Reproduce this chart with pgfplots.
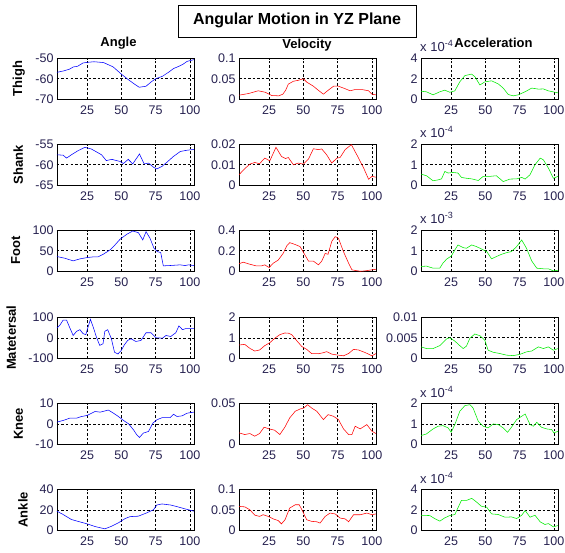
\documentclass[border=0pt]{standalone}
\usepackage{fontspec}
\setmainfont{Liberation Sans}
\usepackage{pgfplots}
\pgfplotsset{compat=1.18}
\definecolor{tickcol}{RGB}{38,33,80}
\definecolor{mblue}{RGB}{0,0,255}
\definecolor{mred}{RGB}{255,0,0}
\definecolor{mgreen}{RGB}{0,235,0}
\pgfplotsset{
  panel/.style={
    width=137pt, height=41.5pt, scale only axis,
    anchor=north west,
    xmin=3, xmax=103,
    xtick={25,50,75,100}, xticklabels={25,50,75,100},
    scaled y ticks=false, scaled x ticks=false,
    grid=major,
    major grid style={black, line width=0.5pt, dash pattern=on 2.5pt off 2pt},
    axis line style={black, line width=0.6pt},
    tick align=inside,
    major tick length=2pt,
    tick style={black, line width=0.5pt},
    ticklabel style={font=\fontsize{12.5}{14}\selectfont, text=tickcol},
    xticklabel style={yshift=-2.5pt},
    every axis plot/.append style={line width=0.55pt, mark=none},
  },
}
\newcommand{\rowlabel}[3]{\node[rotate=90, anchor=base, font=\bfseries\fontsize{13}{15}\selectfont] at (#1pt,-#2pt) {#3};}
\newcommand{\expo}[2]{\node[anchor=base west, font=\fontsize{13}{15}\selectfont, text=tickcol, inner sep=0pt] at (420pt,-#1pt) {x 10\raisebox{5pt}{\fontsize{9}{10}\selectfont #2}};}
\begin{document}
\begin{tikzpicture}
\path[use as bounding box] (0,0) rectangle (565pt,-553pt);
% title
\draw[black, line width=0.8pt, fill=white] (178pt,-5pt) rectangle (416pt,-37pt);
\node[anchor=base, font=\bfseries\fontsize{16}{18}\selectfont] at (297pt,-24.5pt) {Angular Motion in YZ Plane};
\node[anchor=base, font=\bfseries\fontsize{13}{15}\selectfont] at (118.5pt,-46.7pt) {Angle};
\node[anchor=base, font=\bfseries\fontsize{13}{15}\selectfont] at (307pt,-49pt) {Velocity};
\node[anchor=base, font=\bfseries\fontsize{13}{15}\selectfont] at (493.5pt,-48pt) {Acceleration};

% ---------------- Row 1: Thigh
\begin{axis}[panel, at={(57pt,-58pt)}, ymin=-70, ymax=-50, ytick={-70,-60,-50}, yticklabels={-70,-60,-50}]
\addplot[mblue] coordinates {(3,-56.9)(8,-56.2)(12,-55.4)(15,-54.3)(18,-54)(22,-52.4)(25,-52.1)(30,-51.8)(37,-52.2)(44,-54.3)(50,-57.8)(55,-60.4)(60,-62.8)(63,-64.1)(68,-63.6)(72,-61.4)(75,-60)(80,-58.8)(85,-56.6)(88,-55.1)(92,-54)(95,-53)(98,-51.6)(101,-51.1)(103,-50.8)};
\end{axis}
\begin{axis}[panel, at={(239pt,-58pt)}, ymin=0, ymax=0.1, ytick={0,0.05,0.1}, yticklabels={0,0.05,0.1}]
\addplot[mred] coordinates {(3,0.0104)(10,0.0144)(17,0.021)(22,0.0176)(27,0.0096)(32,0.0088)(35,0.0128)(37,0.022)(39,0.037)(42.7,0.044)(46,0.046)(50,0.05)(52.4,0.042)(57.3,0.032)(61,0.022)(64.6,0.0128)(68,0.022)(72,0.032)(75.6,0.032)(80.5,0.026)(84,0.021)(87.8,0.024)(92.7,0.024)(97.6,0.021)(100,0.013)(103,0.011)};
\end{axis}
\begin{axis}[panel, at={(421pt,-58pt)}, ymin=0, ymax=4, ytick={0,2,4}, yticklabels={0,2,4}]
\addplot[mgreen] coordinates {(3,0.8)(7,0.74)(11.8,0.45)(16.7,0.74)(20.4,0.9)(24,0.7)(27.7,0.83)(31.3,1.7)(35,2.3)(39.9,2.45)(42.3,2.2)(46,1.4)(49.6,1.7)(54.5,1.8)(59.4,1.5)(63,1.1)(66.7,0.48)(70.4,0.35)(74,0.45)(78.9,0.74)(83.8,1.1)(88.7,1.0)(92.3,1.02)(96,0.83)(103,0.64)};
\end{axis}
\rowlabel{22}{78.75}{Thigh}
\expo{52}{-4}

% ---------------- Row 2: Shank
\begin{axis}[panel, at={(57pt,-144pt)}, ymin=-65, ymax=-55, ytick={-65,-60,-55}, yticklabels={-65,-60,-55}]
\addplot[mblue] coordinates {(3,-57.6)(7.5,-57.7)(10,-58.4)(13.5,-57.6)(18.4,-56.6)(23.3,-55.8)(25.7,-56)(28,-56.2)(31.8,-56.9)(35.5,-57.6)(39,-59)(43,-58.7)(46.6,-59)(49,-59.2)(51.5,-59.7)(55,-58.7)(58.3,-59.8)(63.2,-57.4)(66.6,-59.8)(69.8,-59.6)(73.5,-60.6)(75.9,-61)(79.6,-60.4)(83.2,-59.4)(88,-58)(93,-56.8)(98,-56.5)(103,-56.3)};
\end{axis}
\begin{axis}[panel, at={(239pt,-144pt)}, ymin=0, ymax=0.02, ytick={0,0.01,0.02}, yticklabels={0,0.01,0.02}]
\addplot[mred] coordinates {(3,0.0052)(7.2,0.0081)(10.9,0.0103)(14.5,0.0111)(18,0.0105)(21.8,0.0132)(25.5,0.0119)(30,0.0184)(34,0.014)(37,0.013)(39,0.0135)(42.7,0.01)(46.3,0.0108)(50,0.0103)(53.7,0.0127)(57.3,0.0177)(61,0.0173)(63.4,0.0176)(67,0.0148)(70.7,0.0108)(74.4,0.0132)(76.8,0.0135)(80.5,0.0173)(85,0.0197)(89,0.0148)(94,0.0084)(97.6,0.003)(100,0.0044)(103,0.004)};
\end{axis}
\begin{axis}[panel, at={(421pt,-144pt)}, ymin=0, ymax=2, ytick={0,1,2}, yticklabels={0,1,2}]
\addplot[mgreen] coordinates {(3,0.55)(7,0.47)(11.8,0.23)(15.5,0.27)(18,0.32)(20.4,0.68)(22.8,0.6)(26.5,0.63)(30,0.6)(32.5,0.39)(36,0.35)(40,0.32)(44.8,0.24)(48.4,0.44)(53.3,0.44)(58,0.47)(63,0.19)(68,0.31)(72.8,0.32)(76.5,0.39)(79,0.31)(82.6,0.52)(86.2,1.0)(90,1.32)(92.3,1.24)(96,0.84)(99.6,0.35)(103,0.44)};
\end{axis}
\rowlabel{23}{164.75}{Shank}
\expo{138}{-4}

% ---------------- Row 3: Foot
\begin{axis}[panel, at={(57pt,-230pt)}, ymin=0, ymax=100, ytick={0,50,100}, yticklabels={0,50,100}]
\addplot[mblue] coordinates {(3,36)(8.7,32)(14.8,25.6)(19.7,30.4)(25,33.6)(29.4,35.2)(33,35.2)(36.8,41.6)(41.7,52)(45.3,64)(49,77.6)(53.9,89.6)(58.3,97.6)(62.4,93.6)(65.6,76)(68,96)(70.9,80)(73.8,56)(76.2,48)(78.7,45.6)(80.6,13.6)(85.5,14.4)(92.8,16)(96.5,14.4)(98.9,16)(103,14.4)};
\end{axis}
\begin{axis}[panel, at={(239pt,-230pt)}, ymin=0, ymax=0.4, ytick={0,0.2,0.4}, yticklabels={0,0.2,0.4}]
\addplot[mred] coordinates {(3,0.074)(6,0.09)(10.9,0.07)(15.7,0.054)(19.4,0.054)(21.8,0.064)(25,0.038)(28,0.08)(31.6,0.11)(35.2,0.174)(38,0.25)(40,0.278)(44,0.26)(47.6,0.24)(50.5,0.174)(53.7,0.1)(57.3,0.1)(61,0.064)(63.4,0.1)(65.9,0.174)(68,0.166)(70.7,0.29)(73.2,0.336)(75.6,0.32)(79.3,0.19)(83,0.08)(85.4,0.016)(91.5,0.002)(95,0.006)(100,0.016)(103,0.022)};
\end{axis}
\begin{axis}[panel, at={(421pt,-230pt)}, ymin=0, ymax=2, ytick={0,1,2}, yticklabels={0,1,2}]
\addplot[mgreen] coordinates {(3,0.24)(7,0.26)(11.8,0.16)(16.7,0.16)(19,0.4)(21.6,0.59)(25.2,0.75)(27.7,1.04)(30,1.28)(33.8,1.15)(36.2,1.12)(40,1.28)(43.5,1.2)(47,1.09)(51,0.96)(54.5,0.61)(58,0.72)(61.8,0.83)(65.5,0.91)(69,0.96)(72.8,1.2)(76.5,1.52)(80,1.12)(83.8,0.51)(87.5,0.16)(92.3,0.13)(96,0.13)(99.6,0.03)(103,0.06)};
\end{axis}
\rowlabel{20}{250.75}{Foot}
\expo{224}{-3}

% ---------------- Row 4: Matetersal
\begin{axis}[panel, at={(57pt,-317pt)}, ymin=-100, ymax=100, ytick={-100,0,100}, yticklabels={-100,0,100}]
\addplot[mblue] coordinates {(3,47)(5,60)(7.5,85)(10,85)(12.4,47)(14.8,11)(17.3,31)(19.7,39)(22,20)(24,15)(25.7,52)(27.4,89)(29.4,52)(31.8,3)(34.2,-37)(36.6,-29)(37.9,31)(40,39)(42.7,-5)(45,-70)(47.5,-78)(49.8,-62)(52.2,-34)(54.6,-13)(57,-5)(60.6,-18)(64.3,-13)(68,24)(71.6,24)(75.2,0)(80,-2)(82.6,11)(86,6)(89.7,24)(92,57)(94.6,39)(97,44)(100,44)(103,44)};
\end{axis}
\begin{axis}[panel, at={(239pt,-317pt)}, ymin=0, ymax=2, ytick={0,1,2}, yticklabels={0,1,2}]
\addplot[mred] coordinates {(3,0.65)(7.2,0.68)(10.9,0.49)(14.5,0.36)(18,0.41)(21.8,0.62)(25.5,0.76)(29,0.97)(32.8,1.15)(36.5,1.23)(39,1.22)(41.5,1.15)(45,0.87)(48.8,0.58)(52.4,0.44)(56,0.24)(61,0.23)(64.6,0.28)(67,0.33)(70.7,0.21)(75.6,0.16)(79.3,0.13)(83,0.24)(86.6,0.44)(90.2,0.41)(95,0.29)(100,0.13)(103,0.24)};
\end{axis}
\begin{axis}[panel, at={(421pt,-317pt)}, ymin=0, ymax=0.01, ytick={0,0.005,0.01}, yticklabels={0,0.005,0.01}]
\addplot[mgreen] coordinates {(3,0.0028)(7,0.0024)(11.8,0.0024)(16.7,0.0031)(21.6,0.0047)(24,0.005)(27.7,0.0042)(31.3,0.0031)(33.8,0.0024)(36.2,0.003)(38.7,0.0049)(42.3,0.0059)(46,0.0055)(49.6,0.0044)(52,0.002)(55.7,0.0015)(60.6,0.0012)(65.5,0.0008)(70.4,0.0007)(75.2,0.001)(80,0.0016)(83.8,0.0018)(88.7,0.0028)(92.3,0.0024)(96,0.0028)(99.6,0.002)(103,0.0024)};
\end{axis}
\rowlabel{16}{337.75}{Matetersal}

% ---------------- Row 5: Knee
\begin{axis}[panel, at={(57pt,-403pt)}, ymin=-10, ymax=10, ytick={-10,0,10}, yticklabels={-10,0,10}]
\addplot[mblue] coordinates {(3,0.8)(7.5,1.6)(12.4,2.7)(17.3,2.7)(21,3.5)(25,4)(28.3,5.1)(30.8,5.9)(34.5,5.6)(40.5,6.6)(44.2,5.1)(47.8,3.5)(51.5,1.6)(55.2,0)(58.8,-2.9)(61.2,-5.3)(63.2,-6.6)(66,-4.5)(69.8,-3.7)(73,0.3)(75.9,1.9)(79.6,2.9)(83.2,3)(85.7,3)(88,4.6)(90.6,3.5)(94.3,3.8)(98,5.1)(103,5.6)};
\end{axis}
\begin{axis}[panel, at={(239pt,-403pt)}, ymin=0, ymax=0.05, ytick={0,0.05}, yticklabels={0,0.05}]
\addplot[mred] coordinates {(3,0.014)(7.2,0.012)(10.9,0.0132)(14.5,0.01)(18,0.0132)(21.3,0.0208)(25,0.0188)(29,0.0172)(32.8,0.012)(36.5,0.021)(40,0.032)(44,0.04)(47.6,0.0428)(50.5,0.044)(53,0.048)(56,0.044)(59.8,0.04)(64.6,0.03)(68,0.036)(72,0.034)(75.6,0.03)(79.3,0.0188)(83,0.012)(85.4,0.012)(87.8,0.022)(91.5,0.0188)(96.3,0.024)(100,0.016)(103,0.0132)};
\end{axis}
\begin{axis}[panel, at={(421pt,-403pt)}, ymin=0, ymax=2, ytick={0,1,2}, yticklabels={0,1,2}]
\addplot[mgreen] coordinates {(3,0.43)(7,0.51)(11.8,0.75)(15.5,0.88)(19,0.91)(22.8,0.8)(25,0.59)(27.7,0.96)(31.3,1.6)(35,1.87)(38.7,1.92)(41,1.76)(44.8,1.12)(48.4,0.88)(52,0.8)(55.7,0.99)(59.4,0.96)(63,0.8)(66.2,0.59)(69,0.83)(72.8,1.2)(76.5,1.36)(79,1.47)(82.6,0.96)(85,0.88)(87.5,1.07)(91,0.83)(94.8,0.75)(98.4,0.72)(100,0.56)(103,0.64)};
\end{axis}
\rowlabel{23}{423.75}{Knee}
\expo{397}{-4}

% ---------------- Row 6: Ankle
\begin{axis}[panel, at={(57pt,-489pt)}, ymin=0, ymax=40, ytick={0,20,40}, yticklabels={0,20,40}]
\addplot[mblue] coordinates {(3,18.6)(7.5,15.4)(13.5,10.6)(19.7,8.3)(25,6.4)(30.8,3.8)(38,1.6)(43,4.2)(47.8,7.4)(52.7,11.5)(56.4,13.4)(62.4,13.8)(68.5,17)(73.4,20)(75.9,24.6)(79.6,25.6)(85.7,24.6)(90.6,23)(96.6,20.8)(103,18.6)};
\end{axis}
\begin{axis}[panel, at={(239pt,-489pt)}, ymin=0, ymax=0.1, ytick={0,0.05,0.1}, yticklabels={0,0.05,0.1}]
\addplot[mred] coordinates {(3,0.058)(7.2,0.057)(10.9,0.05)(14.5,0.037)(18,0.034)(20.6,0.038)(24.3,0.034)(28,0.028)(31.6,0.024)(34,0.016)(36.6,0.026)(40,0.054)(44,0.062)(47,0.062)(49.5,0.046)(52.4,0.026)(56,0.022)(59.8,0.021)(62.2,0.018)(65.9,0.034)(69.5,0.042)(73.2,0.04)(76.8,0.03)(80.5,0.028)(83,0.021)(86.6,0.038)(91.5,0.038)(96.3,0.042)(100,0.038)(103,0.04)};
\end{axis}
\begin{axis}[panel, at={(421pt,-489pt)}, ymin=0, ymax=4, ytick={0,2,4}, yticklabels={0,2,4}]
\addplot[mgreen] coordinates {(3,1.47)(9.4,1.44)(13,1.15)(16.7,0.9)(20.4,1.22)(24,1.44)(27.7,1.54)(32.5,2.9)(36.2,2.9)(40,3.1)(43.5,2.75)(47,2.34)(51,2.24)(54.5,1.6)(59.4,1.54)(64.3,1.28)(69,1.31)(72.8,1.15)(76.5,1.47)(79,1.92)(82.6,1.28)(86.2,1.47)(90,0.83)(93.5,0.58)(96,0.67)(99.6,0.35)(103,0.48)};
\end{axis}
\rowlabel{27.5}{509.75}{Ankle}
\expo{483}{-4}
\end{tikzpicture}
\end{document}
